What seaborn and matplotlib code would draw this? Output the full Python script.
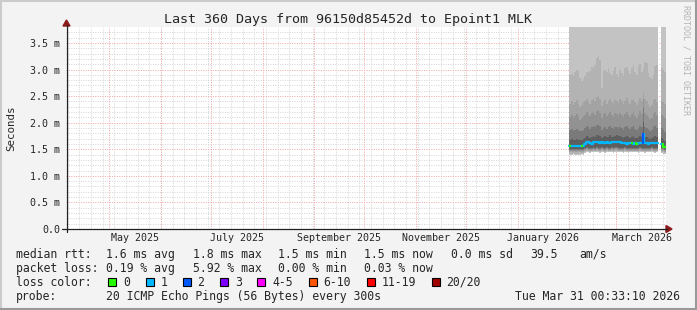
import numpy as np
import pandas as pd
import seaborn as sns
import matplotlib
matplotlib.use("Agg")
import matplotlib.pyplot as plt
import matplotlib.dates as mdates
from matplotlib.lines import Line2D
from matplotlib.patches import Polygon, Rectangle
from matplotlib.transforms import blended_transform_factory
from datetime import datetime, timedelta

# ---------------- data ----------------
title = "Last 360 Days from 96150d85452d to Epoint1 MLK"
period_start = datetime(2025, 4, 5, 0, 33, 10)
period_end = datetime(2026, 3, 31, 0, 33, 10)
data_start = datetime(2026, 2, 1)          # first day with measurements (daily bins)

ytick_values = [0.0, 0.5, 1.0, 1.5, 2.0, 2.5, 3.0, 3.5]
ytick_labels = ["0.0", "0.5 m", "1.0 m", "1.5 m", "2.0 m", "2.5 m", "3.0 m", "3.5 m"]
xtick_months = [datetime(2025, 5, 1), datetime(2025, 7, 1), datetime(2025, 9, 1),
                datetime(2025, 11, 1), datetime(2026, 1, 1), datetime(2026, 3, 1)]
xtick_labels = ["May 2025", "July 2025", "September 2025", "November 2025",
                "January 2026", "March 2026"]

nan = float("nan")
# median rtt per day (ms)
median_rtt = [1.57, 1.57, 1.57, 1.56, 1.57, 1.57, 1.57, 1.57, 1.57, 1.60,
              1.64, 1.63, 1.61, 1.60, 1.63, 1.63, 1.63, 1.63, 1.62, 1.63,
              1.62, 1.61, 1.63, 1.62, 1.61, 1.63, 1.63, 1.64, 1.64, 1.64,
              1.63, 1.61, 1.61, 1.61, 1.60, 1.61, 1.61, 1.61, 1.60, 1.61,
              1.60, 1.61, 1.61, 1.61, 1.78, 1.61, 1.61, 1.60, 1.61, 1.61,
              1.62, 1.61, 1.61, 1.61, nan, 1.60, 1.55, 1.55]
# lost pings per day (out of 20)
loss_count = [0, 1, 1, 1, 1, 1, 1, 0, 1, 1,
              1, 1, 1, 1, 1, 1, 1, 1, 1, 1,
              1, 1, 1, 1, 1, 1, 1, 1, 1, 1,
              1, 1, 1, 1, 1, 1, 1, 0, 1, 1,
              0, 1, 1, 1, 2, 1, 1, 1, 1, 1,
              1, 1, 1, 1, 1, 1, 0, 0]

# smoke: upper bounds (outer -> inner), ms
smoke_up1 = [4.10, 3.95, 4.20, 4.05, 3.98, 4.15, 4.30, 4.00, 3.96, 4.12,
             4.25, 4.05, 3.99, 4.18, 4.08, 4.22, 4.35, 4.10, 4.02, 3.97,
             4.14, 4.06, 4.20, 4.01, 3.99, 4.11, 4.24, 4.07, 3.98, 4.16,
             4.03, 4.21, 4.09, 3.97, 4.13, 4.26, 4.04, 3.99, 4.17, 4.08,
             4.02, 4.19, 4.11, 3.98, 4.30, 4.06, 4.14, 4.00, 3.96, 4.12,
             4.23, 4.05, 4.10, 3.99, nan, 4.15, 4.02, 3.97]
smoke_up2 = [2.90, 2.92, 2.88, 2.95, 3.00, 2.98, 2.85, 2.78, 2.82, 2.88,
             2.96, 2.94, 2.98, 3.04, 3.02, 3.08, 3.22, 3.25, 3.18, 2.65,
             2.98, 3.00, 2.96, 3.02, 2.94, 2.90, 2.98, 3.04, 2.92, 2.86,
             3.00, 2.94, 2.88, 3.02, 3.05, 2.98, 2.92, 3.03, 3.08, 2.95,
             2.90, 3.06, 3.10, 2.96, 3.02, 3.14, 3.12, 2.94, 2.86, 2.82,
             2.90, 3.06, 3.08, 2.98, nan, 3.02, 3.00, 2.95]
smoke_up3 = [2.36, 2.40, 2.33, 2.38, 2.42, 2.35, 2.30, 2.34, 2.38, 2.41,
             2.44, 2.39, 2.36, 2.42, 2.46, 2.40, 2.48, 2.50, 2.44, 2.32,
             2.38, 2.42, 2.36, 2.40, 2.45, 2.38, 2.34, 2.43, 2.40, 2.37,
             2.44, 2.40, 2.35, 2.41, 2.46, 2.39, 2.36, 2.42, 2.45, 2.38,
             2.33, 2.40, 2.47, 2.41, 2.55, 2.44, 2.40, 2.36, 2.30, 2.34,
             2.42, 2.45, 2.39, 2.36, nan, 2.40, 2.38, 2.35]
smoke_up4 = [2.10, 2.14, 2.08, 2.12, 2.16, 2.10, 2.05, 2.08, 2.12, 2.15,
             2.20, 2.16, 2.12, 2.18, 2.20, 2.15, 2.22, 2.24, 2.18, 2.08,
             2.14, 2.18, 2.12, 2.16, 2.20, 2.14, 2.10, 2.18, 2.16, 2.12,
             2.19, 2.15, 2.10, 2.16, 2.21, 2.14, 2.11, 2.17, 2.20, 2.13,
             2.08, 2.15, 2.22, 2.16, 2.45, 2.18, 2.15, 2.11, 2.06, 2.09,
             2.16, 2.20, 2.14, 2.11, nan, 2.15, 2.12, 2.08]
smoke_up5 = [1.86, 1.88, 1.85, 1.87, 1.89, 1.86, 1.84, 1.85, 1.87, 1.90,
             1.93, 1.91, 1.89, 1.92, 1.94, 1.91, 1.95, 1.96, 1.93, 1.87,
             1.90, 1.92, 1.89, 1.91, 1.93, 1.90, 1.88, 1.92, 1.91, 1.89,
             1.92, 1.90, 1.87, 1.91, 1.94, 1.90, 1.88, 1.91, 1.93, 1.89,
             1.86, 1.90, 1.94, 1.91, 2.28, 1.92, 1.90, 1.88, 1.85, 1.87,
             1.91, 1.93, 1.90, 1.88, nan, 1.90, 1.86, 1.82]
smoke_up6 = [1.68, 1.69, 1.67, 1.68, 1.70, 1.68, 1.67, 1.68, 1.69, 1.72,
             1.75, 1.74, 1.72, 1.73, 1.75, 1.74, 1.76, 1.77, 1.75, 1.72,
             1.74, 1.75, 1.73, 1.74, 1.76, 1.74, 1.73, 1.75, 1.76, 1.75,
             1.75, 1.73, 1.71, 1.73, 1.75, 1.73, 1.72, 1.73, 1.75, 1.72,
             1.71, 1.73, 1.75, 1.73, 2.02, 1.74, 1.73, 1.72, 1.70, 1.71,
             1.73, 1.75, 1.73, 1.72, nan, 1.72, 1.68, 1.65]
# smoke: lower bounds (outer -> inner), ms
smoke_lo1 = [1.40, 1.40, 1.41, 1.40, 1.39, 1.40, 1.40, 1.41, 1.40, 1.43,
             1.44, 1.44, 1.43, 1.44, 1.44, 1.45, 1.44, 1.44, 1.43, 1.44,
             1.44, 1.43, 1.44, 1.45, 1.44, 1.44, 1.43, 1.44, 1.44, 1.45,
             1.44, 1.44, 1.43, 1.44, 1.44, 1.43, 1.44, 1.44, 1.45, 1.44,
             1.44, 1.43, 1.44, 1.44, 1.44, 1.43, 1.44, 1.44, 1.45, 1.44,
             1.44, 1.43, 1.44, 1.44, nan, 1.43, 1.42, 1.41]
smoke_lo2 = [1.42, 1.42, 1.43, 1.42, 1.42, 1.42, 1.43, 1.42, 1.42, 1.45,
             1.46, 1.46, 1.45, 1.46, 1.46, 1.46, 1.46, 1.46, 1.45, 1.46,
             1.46, 1.45, 1.46, 1.46, 1.46, 1.46, 1.45, 1.46, 1.46, 1.46,
             1.46, 1.46, 1.45, 1.46, 1.46, 1.45, 1.46, 1.46, 1.46, 1.46,
             1.46, 1.45, 1.46, 1.46, 1.46, 1.45, 1.46, 1.46, 1.46, 1.46,
             1.46, 1.45, 1.46, 1.46, nan, 1.45, 1.44, 1.43]
smoke_lo3 = [1.44, 1.44, 1.45, 1.44, 1.44, 1.44, 1.45, 1.44, 1.44, 1.47,
             1.48, 1.47, 1.47, 1.47, 1.48, 1.47, 1.48, 1.47, 1.47, 1.48,
             1.47, 1.47, 1.48, 1.47, 1.47, 1.48, 1.47, 1.48, 1.48, 1.47,
             1.47, 1.47, 1.47, 1.48, 1.47, 1.47, 1.47, 1.47, 1.47, 1.47,
             1.47, 1.47, 1.48, 1.47, 1.47, 1.47, 1.47, 1.47, 1.47, 1.48,
             1.47, 1.47, 1.47, 1.47, nan, 1.47, 1.46, 1.45]
smoke_lo4 = [1.46, 1.46, 1.47, 1.46, 1.46, 1.46, 1.47, 1.46, 1.46, 1.49,
             1.50, 1.49, 1.49, 1.49, 1.50, 1.49, 1.50, 1.49, 1.49, 1.50,
             1.49, 1.49, 1.50, 1.49, 1.49, 1.50, 1.49, 1.50, 1.50, 1.49,
             1.49, 1.49, 1.49, 1.50, 1.49, 1.49, 1.49, 1.49, 1.49, 1.49,
             1.49, 1.49, 1.50, 1.49, 1.49, 1.49, 1.49, 1.49, 1.49, 1.50,
             1.49, 1.49, 1.49, 1.49, nan, 1.49, 1.48, 1.47]
smoke_lo5 = [1.48, 1.48, 1.49, 1.48, 1.48, 1.48, 1.49, 1.48, 1.48, 1.51,
             1.52, 1.51, 1.51, 1.51, 1.52, 1.51, 1.52, 1.51, 1.51, 1.52,
             1.51, 1.51, 1.52, 1.51, 1.51, 1.52, 1.51, 1.52, 1.52, 1.51,
             1.51, 1.51, 1.51, 1.52, 1.51, 1.51, 1.51, 1.51, 1.51, 1.51,
             1.51, 1.51, 1.52, 1.51, 1.51, 1.51, 1.51, 1.51, 1.51, 1.52,
             1.51, 1.51, 1.51, 1.51, nan, 1.51, 1.50, 1.49]
smoke_lo6 = [1.50, 1.50, 1.51, 1.50, 1.50, 1.50, 1.51, 1.50, 1.50, 1.53,
             1.54, 1.53, 1.53, 1.53, 1.54, 1.53, 1.54, 1.53, 1.53, 1.54,
             1.53, 1.53, 1.54, 1.53, 1.53, 1.54, 1.53, 1.54, 1.54, 1.53,
             1.53, 1.53, 1.53, 1.54, 1.53, 1.53, 1.53, 1.53, 1.53, 1.53,
             1.53, 1.53, 1.54, 1.53, 1.53, 1.53, 1.53, 1.53, 1.53, 1.54,
             1.53, 1.53, 1.53, 1.53, nan, 1.53, 1.52, 1.51]

loss_classes = ["0", "1", "2", "3", "4-5", "6-10", "11-19", "20/20"]
loss_colors = ["#26ff00", "#00b8ff", "#0059ff", "#7e00ff", "#ff00ff", "#ff5500", "#ff0000", "#a10000"]
smoke_colors = ["#c3c3c3", "#b3b3b3", "#a3a3a3", "#929292", "#7a7a7a", "#5e5e5e"]

legend_rows = [
    ["median rtt:", "1.6 ms avg", "1.8 ms max", "1.5 ms min", "1.5 ms now", "0.0 ms sd", "39.5", "am/s"],
    ["packet loss:", "0.19 % avg", "5.92 % max", "0.00 % min", "0.03 % now"],
    ["loss color:"],
    ["probe:", "20 ICMP Echo Pings (56 Bytes) every 300s"],
]
timestamp = "Tue Mar 31 00:33:10 2026"
watermark = "RRDTOOL / TOBI OETIKER"

# ---------------- figure ----------------
sns.set_style("white")
plt.rcParams["font.family"] = ["DejaVu Sans Mono", "DejaVu Sans"]

W, H = 697, 310
fig = plt.figure(figsize=(W / 100, H / 100), dpi=100, facecolor="#f3f3f3")


def fx(x):
    return x / W


def fy(y):
    return 1 - y / H


ax = fig.add_axes([fx(66), fy(229), 600 / W, 202 / H])
ax.set_facecolor("white")
for s in ax.spines.values():
    s.set_visible(False)

x0 = mdates.date2num(period_start)
x1 = mdates.date2num(period_end)
ax.set_xlim(x0, x1)
ax.set_ylim(0, 3.8)

# grid
sundays = []
d = datetime(2025, 4, 6)
while d < period_end:
    sundays.append(mdates.date2num(d))
    d += timedelta(days=7)
months = []
y_, m_ = 2025, 5
while datetime(y_, m_, 1) < period_end:
    months.append(mdates.date2num(datetime(y_, m_, 1)))
    m_ += 1
    if m_ > 12:
        m_, y_ = 1, y_ + 1

minor_h = [round(0.1 * i, 1) for i in range(1, 38) if i % 5 != 0]
major_h = [0.5 * i for i in range(1, 8)]
dash = (0, (1, 1.4))
ax.vlines(sundays, 0, 3.8, colors="#d6d6d6", linewidth=0.72, linestyles=dash, zorder=0.5)
ax.hlines(minor_h, x0, x1, colors="#d6d6d6", linewidth=0.72, linestyles=dash, zorder=0.5)
ax.vlines(months, 0, 3.8, colors="#f2a8a8", linewidth=0.72, linestyles=dash, zorder=0.6)
ax.hlines(major_h, x0, x1, colors="#f2a8a8", linewidth=0.72, linestyles=dash, zorder=0.6)

# smoke
n = len(median_rtt)
edges = [mdates.date2num(data_start + timedelta(days=i)) for i in range(n + 1)]


def ext(a):
    return list(a) + [a[-1]]


uppers = [smoke_up1, smoke_up2, smoke_up3, smoke_up4, smoke_up5, smoke_up6]
lowers = [smoke_lo1, smoke_lo2, smoke_lo3, smoke_lo4, smoke_lo5, smoke_lo6]
for lo, up, c in zip(lowers, uppers, smoke_colors):
    ax.fill_between(edges, ext(lo), ext(up), step="post", color=c, linewidth=0, zorder=2)

# median line (cyan base, then loss colours per day)
med = ext(median_rtt)
df = pd.DataFrame({"t": edges, "rtt": med})
gap = [i for i, v in enumerate(median_rtt) if np.isnan(v)]
segs = []
startidx = 0
for g in gap:
    segs.append((startidx, g))
    startidx = g + 1
segs.append((startidx, n + 1))
for a, b in segs:
    sub = df.iloc[a:b + (1 if b <= n else 0)].copy()
    sub = sub.dropna()
    sns.lineplot(data=sub, x="t", y="rtt", ax=ax, color=loss_colors[1], linewidth=1.6,
                 drawstyle="steps-post", estimator=None, sort=False, zorder=3)


def loss_class(k):
    if k <= 3:
        return k
    if k <= 5:
        return 4
    if k <= 10:
        return 5
    if k <= 19:
        return 6
    return 7


for i, (v, k) in enumerate(zip(median_rtt, loss_count)):
    if np.isnan(v) or k == 1:
        continue
    ci = loss_class(k)
    ax.plot([edges[i], edges[i + 1]], [v, v], color=loss_colors[ci], linewidth=1.6,
            solid_capstyle="butt", zorder=4)
    if i > 0 and not np.isnan(median_rtt[i - 1]):
        ax.plot([edges[i], edges[i]], [median_rtt[i - 1], v], color=loss_colors[ci],
                linewidth=1.6, zorder=4)

ax.set_xlabel("")
ax.set_ylabel("")

# ticks
ax.set_yticks(ytick_values)
ax.set_yticklabels(ytick_labels, fontsize=7.2)
ax.tick_params(axis="y", length=0, pad=4.3)
ax.set_xticks(months)
ax.set_xticklabels([])
ax.set_xticks(sundays, minor=True)
ax.tick_params(axis="x", which="major", length=2.2, width=0.7, color="#e08080", direction="out")
ax.tick_params(axis="x", which="minor", length=1.5, width=0.7, color="#b0b0b0", direction="out")

trans = blended_transform_factory(ax.transData, ax.transAxes)
for m, lab in zip(xtick_months, xtick_labels):
    nxt = datetime(m.year + (m.month // 12), m.month % 12 + 1, 1)
    mid = (mdates.date2num(m) + mdates.date2num(nxt)) / 2
    ax.text(mid, -9 / 202, lab, transform=trans, ha="center", va="center", fontsize=7.2)

# axis lines with arrows
fig.add_artist(Line2D([fx(62), fx(667)], [fy(229), fy(229)], color="#202020", linewidth=0.9))
fig.add_artist(Line2D([fx(66.5), fx(66.5)], [fy(232), fy(25)], color="#202020", linewidth=0.9))
fig.add_artist(Polygon([[fx(666), fy(225.5)], [fx(666), fy(232.5)], [fx(672), fy(229)]],
                       closed=True, color="#8b1a1a", transform=fig.transFigure))
fig.add_artist(Polygon([[fx(63), fy(26)], [fx(70), fy(26)], [fx(66.5), fy(20)]],
                       closed=True, color="#8b1a1a", transform=fig.transFigure))

# title & labels
fig.text(fx(348.5), fy(19), title, ha="center", va="center", fontsize=9.6)
fig.text(fx(11), fy(128), "Seconds", ha="center", va="center", rotation=90, fontsize=7.8)
fig.text(fx(686), fy(60), watermark, ha="center", va="center", rotation=-90,
         fontsize=6, color="#b4b4b4")

# legend (each item placed like rrdtool places its GPRINT items)
row_y = [254.3, 268.3, 282.3, 296.7]
col_x = [16, 106, 193, 278.5, 364, 451, 530, 579]
for items, yy in zip(legend_rows, row_y):
    for txt, xx in zip(items, col_x):
        fig.text(fx(xx), fy(yy), txt, ha="left", va="center", fontsize=8.3)
fig.text(fx(680), fy(296.7), timestamp, ha="right", va="center", fontsize=8.3)

bx = 108.3
for lab, col in zip(loss_classes, loss_colors):
    fig.add_artist(Rectangle((fx(bx), fy(286.3)), 8 / W, 8 / H, facecolor=col,
                             edgecolor="black", linewidth=0.8, transform=fig.transFigure))
    fig.text(fx(bx + 14.7), fy(282.3), lab, ha="left", va="center", fontsize=8.3)
    bx = bx + 14.7 + len(lab) * 6.96 + 15.6

# frame
fig.add_artist(Line2D([0, 1], [fy(0.8), fy(0.8)], color="#cbcbcb", linewidth=1.5))
fig.add_artist(Line2D([fx(0.8), fx(0.8)], [0, 1], color="#cbcbcb", linewidth=1.5))
fig.add_artist(Line2D([0, 1], [fy(309.2), fy(309.2)], color="#999999", linewidth=1.5))
fig.add_artist(Line2D([fx(696.2), fx(696.2)], [0, 1], color="#999999", linewidth=1.5))

fig.savefig("out.png", dpi=100, facecolor=fig.get_facecolor())
